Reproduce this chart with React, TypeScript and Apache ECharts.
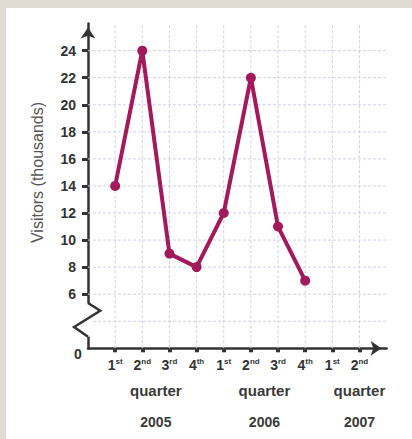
import React, { useEffect, useRef } from "react";
import * as echarts from "echarts";

// Quarterly visitor counts (thousands), 2005 Q1 – 2006 Q4
const visitors = [14, 24, 9, 8, 12, 22, 11, 7];
// Quarter tick labels, ten slots from 2005 Q1 to 2007 Q2
const quarterLabels = ["1st", "2nd", "3rd", "4th", "1st", "2nd", "3rd", "4th", "1st", "2nd"];
// Year groups and the slot position each group label is centred on
const years = ["2005", "2006", "2007"];
const yearCenters = [1.5, 5.5, 9];
// The value axis is broken between 0 and 6: plotted height = value - 2 above the break
const axisShift = 2;
const yTickValues = [6, 8, 10, 12, 14, 16, 18, 20, 22, 24];
const hGridValues = [4, 6, 8, 10, 12, 14, 16, 18, 20, 22, 24];
const vGridSlots = [0, 1, 2, 3, 4, 5, 6, 7, 8, 9];
// Zig-zag that marks the axis break, in (slot, plotted height) units
const breakZigzag: [number, number][] = [
  [-1, 3.35],
  [-0.55, 2.78],
  [-1.51, 1.57],
  [-1, 0.86],
];

const INK = "#333333";
const LINE = "#a3195b";
const GRID = "#cfcfe8";
const FONT = "Liberation Sans, Arial, sans-serif";

const plotted = (v: number) => (v === 0 ? 0 : v - axisShift);

export default function App() {
  const ref = useRef<HTMLDivElement>(null);

  useEffect(() => {
    if (!ref.current) return;
    const chart = echarts.init(ref.current, undefined, { renderer: "svg" });

    const labelRich = {
      n: { fontSize: 14, fontWeight: "bold", color: INK, fontFamily: FONT, lineHeight: 16 },
      s: { fontSize: 8, fontWeight: "bold", color: INK, fontFamily: FONT, verticalAlign: "top", lineHeight: 16, padding: [0, 0, 6, 0] },
    };

    chart.setOption({
      animation: false,
      grid: { left: 88, top: 23.6, right: 25.4, bottom: 90.7, containLabel: false },
      xAxis: [
        {
          type: "value",
          min: -1,
          max: 10,
          interval: 1,
          position: "bottom",
          axisLine: {
            show: true,
            onZero: false,
            symbol: ["none", "arrow"],
            symbolSize: [11, 11],
            symbolOffset: [0, -5],
            lineStyle: { color: INK, width: 2.5 },
          },
          axisTick: {
            show: true,
            customValues: vGridSlots,
            length: 4,
            lineStyle: { color: INK, width: 4 },
          },
          axisLabel: {
            show: true,
            customValues: vGridSlots,
            margin: 9,
            formatter: (v: number) => {
              const t = quarterLabels[Math.round(v)] || "";
              return `{n|${t.slice(0, 1)}}{s|${t.slice(1)}}`;
            },
            rich: labelRich,
          },
          splitLine: { show: false },
        },
        {
          type: "value",
          min: -1,
          max: 10,
          interval: 1,
          position: "bottom",
          axisLine: { show: false, onZero: false },
          axisTick: { show: false },
          splitLine: { show: false },
          axisLabel: {
            show: true,
            customValues: yearCenters,
            margin: 25.7,
            formatter: (v: number) => {
              const i = yearCenters.indexOf(v);
              return `{q|quarter}\n{y|${years[i] ?? ""}}`;
            },
            rich: {
              q: { fontSize: 15, fontWeight: "bold", color: "#3a3a3a", lineHeight: 32, fontFamily: FONT },
              y: { fontSize: 14, fontWeight: "bold", color: "#3a3a3a", lineHeight: 32, fontFamily: FONT },
            },
          },
        },
      ],
      yAxis: {
        type: "value",
        min: 0,
        max: 24,
        interval: 2,
        axisLine: {
          show: true,
          onZero: false,
          symbol: ["none", "arrow"],
          symbolSize: [11, 11],
          symbolOffset: [0, -4],
          lineStyle: { color: INK, width: 2.5 },
        },
        axisTick: {
          show: true,
          customValues: yTickValues.map(plotted),
          length: 6,
          lineStyle: { color: INK, width: 3 },
        },
        axisLabel: {
          show: true,
          customValues: yTickValues.map(plotted),
          margin: 12,
          fontSize: 14,
          fontWeight: "bold",
          color: INK,
          fontFamily: FONT,
          formatter: (v: number) => String(v + axisShift),
        },
        splitLine: { show: false },
      },
      graphic: [
        {
          type: "text",
          x: 37,
          y: 172.5,
          rotation: Math.PI / 2,
          style: {
            text: "Visitors (thousands)",
            fill: "#555555",
            fontSize: 16,
            fontFamily: FONT,
            align: "center",
            verticalAlign: "middle",
          },
        },
        {
          type: "text",
          x: 78,
          y: 354,
          style: {
            text: "0",
            fill: INK,
            fontSize: 14,
            fontWeight: "bold",
            fontFamily: FONT,
            align: "center",
            verticalAlign: "middle",
          },
        },
      ],
      series: [
        {
          type: "custom",
          silent: true,
          z: 1,
          data: hGridValues.map((v) => [-1, plotted(v)]),
          renderItem: (_p: any, api: any) => {
            const y = api.value(1);
            const a = api.coord([-1, y]);
            const b = api.coord([10, y]);
            return {
              type: "line",
              shape: { x1: a[0], y1: a[1], x2: b[0], y2: b[1] },
              style: { stroke: GRID, lineWidth: 1, lineDash: [3, 2] },
            };
          },
        },
        {
          type: "custom",
          silent: true,
          z: 1,
          data: vGridSlots.map((s) => [s, 0]),
          renderItem: (_p: any, api: any) => {
            const x = api.value(0);
            const a = api.coord([x, 0]);
            const b = api.coord([x, 24]);
            return {
              type: "line",
              shape: { x1: a[0], y1: a[1], x2: b[0], y2: b[1] },
              style: { stroke: GRID, lineWidth: 1, lineDash: [3, 2] },
            };
          },
        },
        {
          // axis break: white gap in the axis line plus the zig-zag
          type: "custom",
          silent: true,
          z: 5,
          data: [[-1, 0]],
          renderItem: (_p: any, api: any) => {
            const top = api.coord(breakZigzag[0]);
            const bottom = api.coord(breakZigzag[breakZigzag.length - 1]);
            const pts = breakZigzag.map((p) => api.coord(p));
            return {
              type: "group",
              children: [
                {
                  type: "rect",
                  shape: { x: top[0] - 3, y: top[1], width: 6, height: bottom[1] - top[1] },
                  style: { fill: "#ffffff" },
                },
                {
                  type: "polyline",
                  shape: { points: pts },
                  style: { stroke: INK, lineWidth: 2.5, fill: null, lineJoin: "miter" },
                },
              ],
            };
          },
        },
        {
          type: "line",
          z: 10,
          data: visitors.map((v, i) => [i, plotted(v)]),
          lineStyle: { color: LINE, width: 4 },
          itemStyle: { color: LINE },
          symbol: "circle",
          symbolSize: 10,
          showSymbol: true,
        },
      ],
    });

    return () => chart.dispose();
  }, []);

  return (
    <div style={{ position: "fixed", left: 0, top: 0, width: 412, height: 439, background: "#e2dbd3" }}>
      <div style={{ position: "absolute", left: 6, top: 8, width: 406, height: 431, background: "#ffffff" }} />
      <div ref={ref} style={{ position: "absolute", left: 0, top: 0, width: 412, height: 439 }} />
    </div>
  );
}
